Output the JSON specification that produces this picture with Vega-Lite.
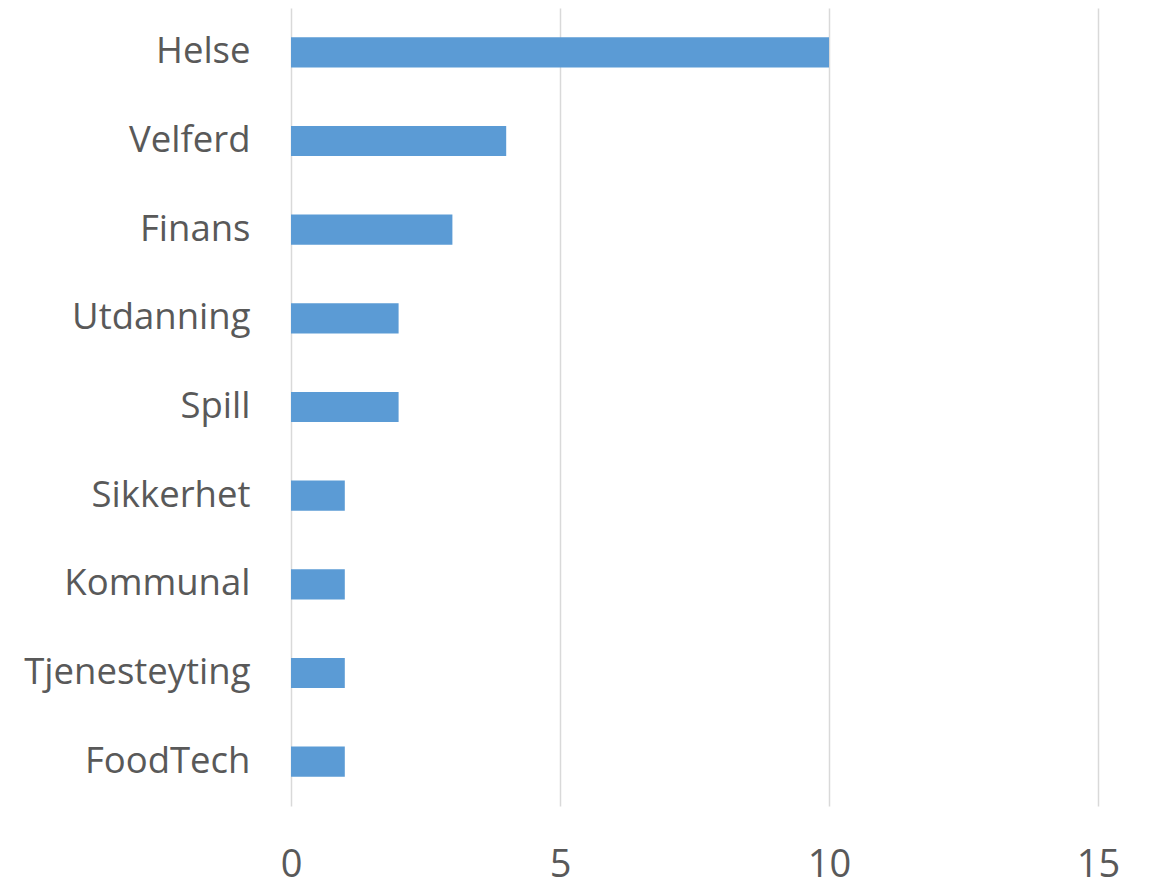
{
  "$schema": "https://vega.github.io/schema/vega-lite/v6.json",
  "width": 807,
  "height": 798,
  "autosize": {"type": "none"},
  "padding": {"left": 291, "top": 8, "right": 54, "bottom": 80},
  "background": "white",
  "config": {"view": {"stroke": null}},
  "data": {
    "values": [
      {"category": "Helse", "value": 10},
      {"category": "Velferd", "value": 4},
      {"category": "Finans", "value": 3},
      {"category": "Utdanning", "value": 2},
      {"category": "Spill", "value": 2},
      {"category": "Sikkerhet", "value": 1},
      {"category": "Kommunal", "value": 1},
      {"category": "Tjenesteyting", "value": 1},
      {"category": "FoodTech", "value": 1}
    ]
  },
  "mark": {"type": "bar", "color": "#5B9BD5"},
  "encoding": {
    "y": {
      "field": "category",
      "type": "nominal",
      "sort": null,
      "scale": {"paddingInner": 0.66, "paddingOuter": 0.33},
      "axis": {
        "title": null,
        "domain": false,
        "ticks": false,
        "labelPadding": 41,
        "labelLimit": 0,
        "labelFont": "Open Sans",
        "labelFontSize": 36.5,
        "labelColor": "#595959",
        "grid": false
      }
    },
    "x": {
      "field": "value",
      "type": "quantitative",
      "scale": {"domain": [0, 15], "nice": false},
      "axis": {
        "title": null,
        "values": [0, 5, 10, 15],
        "domain": false,
        "ticks": false,
        "labelFlush": false,
        "labelPadding": 40,
        "labelFont": "Open Sans",
        "labelFontSize": 38,
        "labelColor": "#595959",
        "grid": true,
        "gridColor": "#D9D9D9",
        "gridWidth": 1.5
      }
    }
  }
}
